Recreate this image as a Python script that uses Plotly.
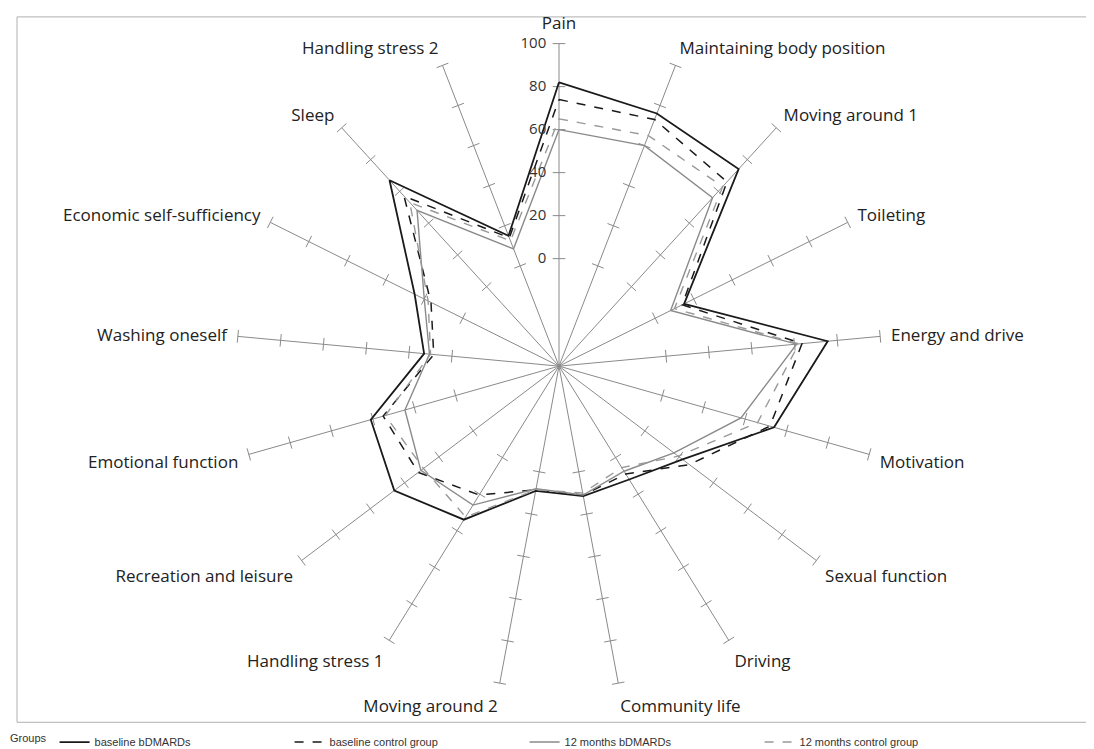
import plotly.graph_objects as go

categories = ["Pain", "Maintaining body position", "Moving around 1", "Toileting",
              "Energy and drive", "Motivation", "Sexual function", "Driving",
              "Community life", "Moving around 2", "Handling stress 1",
              "Recreation and leisure", "Emotional function", "Washing oneself",
              "Economic self-sufficiency", "Sleep", "Handling stress 2"]

baseline_bdmards = [82, 76, 74, 15, 75.5, 54, 22, 12, 11.5, 9, 34, 46, 41, 13, 25, 67, 15]
baseline_control = [74, 73, 66, 14, 63.5, 52, 26, 9, 11, 8.5, 20.5, 32, 35, 8.5, 16.5, 57, 14]
months12_bdmards = [60, 60, 56, 8, 61, 38, 17, 7.5, 11, 8, 26, 30.5, 24.5, 10.5, 20, 48, 8.5]
months12_control = [65, 65, 63, 10, 62, 46, 19.5, 5.5, 10, 8.5, 32.5, 29, 34, 10, 18, 53, 12.5]

radial_ticks = [0, 20, 40, 60, 80, 100]
radial_range = [-50, 100]

series = [
    ("baseline bDMARDs", baseline_bdmards, "#1a1a1a", 1.8, "solid"),
    ("baseline control group", baseline_control, "#1a1a1a", 1.5, "dash"),
    ("12 months bDMARDs", months12_bdmards, "#8a8a8a", 1.4, "solid"),
    ("12 months control group", months12_control, "#999999", 1.4, "dash"),
]

W, H = 1094, 749
cx, cy, R = 551, 362, 326

fig = go.Figure()

# tick marks on every spoke
n = len(categories)
tick_r, tick_t, tick_a = [], [], []
for i, c in enumerate(categories):
    b = i * 360.0 / n
    for v in radial_ticks:
        tick_r.append(v)
        tick_t.append(c)
        tick_a.append(b)
fig.add_trace(go.Scatterpolar(
    r=tick_r, theta=tick_t, mode="markers", showlegend=False, hoverinfo="skip",
    marker=dict(symbol="line-ew", size=9, angle=tick_a,
                line=dict(color="#8a8a8a", width=1), color="#8a8a8a"),
))

for name, vals, color, width, dash in series:
    fig.add_trace(go.Scatterpolar(
        r=vals + [vals[0]], theta=categories + [categories[0]],
        mode="lines", name=name,
        line=dict(color=color, width=width, dash=dash),
    ))

fig.update_layout(
    width=W, height=H,
    margin=dict(l=0, r=0, t=0, b=0),
    paper_bgcolor="white",
    font=dict(family="Open Sans", size=15, color="#222"),
    polar=dict(
        domain=dict(x=[(cx - R) / W, (cx + R) / W], y=[1 - (cy + R) / H, 1 - (cy - R) / H]),
        bgcolor="white",
        angularaxis=dict(direction="clockwise", rotation=90, showline=False,
                         showgrid=True, gridcolor="#8a8a8a", gridwidth=1,
                         ticks="outside", ticklen=7, tickcolor="rgba(0,0,0,0)",
                         tickfont=dict(family="Open Sans", size=17, color="#222")),
        radialaxis=dict(range=radial_range, tickvals=radial_ticks, showgrid=False,
                        showline=False, ticks="outside", ticklen=7,
                        tickcolor="rgba(0,0,0,0)", angle=90, side="counterclockwise",
                        tickangle=90,
                        tickfont=dict(family="Open Sans", size=15, color="#333")),
    ),
    legend=dict(orientation="h", x=0.0, y=1 - 742 / H, xanchor="left", yanchor="middle",
                title=dict(text="Groups", side="left",
                           font=dict(size=11, family="Liberation Sans Narrow, Liberation Sans")),
                font=dict(size=11, family="Liberation Sans Narrow, Liberation Sans", color="#333"),
                entrywidth=190, entrywidthmode="pixels", itemwidth=30),
    shapes=[dict(type="rect", xref="paper", yref="paper",
                 x0=9 / W, x1=1085 / W, y0=1 - 722 / H, y1=1 - 9 / H,
                 line=dict(color="#b0b0b0", width=1), fillcolor="rgba(0,0,0,0)", layer="below")],
)

fig.write_html("out.html")
